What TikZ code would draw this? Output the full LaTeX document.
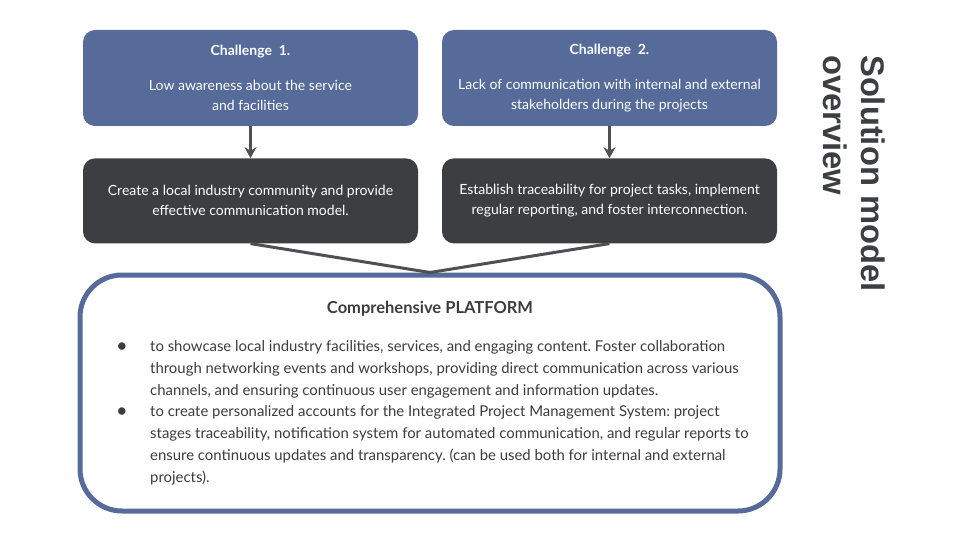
\documentclass[tikz,border=0pt]{standalone}
\usepackage{fontspec}
\setmainfont{Lato}
\newfontfamily\headfont{Liberation Sans}
\usepackage{xcolor}
\usetikzlibrary{arrows.meta,positioning}
\definecolor{chblue}{RGB}{86,107,153}
\definecolor{soldark}{RGB}{60,62,65}
\definecolor{linkgray}{RGB}{80,80,83}
\definecolor{textgray}{RGB}{60,60,62}
\frenchspacing

\begin{document}
\begin{tikzpicture}[x=1pt,y=-1pt,
    chbox/.style={rectangle,rounded corners=12pt,fill=chblue,text=white,
        minimum width=335pt,minimum height=96pt,align=center,
        font=\fontsize{14}{20}\selectfont},
    solbox/.style={chbox,fill=soldark,minimum height=85pt},
    link/.style={linkgray,line width=3pt},
    bulletline/.style={anchor=north west,align=left,text=textgray,inner sep=0pt,
        font=\fontsize{14.9}{22}\selectfont}]
    \useasboundingbox (0,0) rectangle (960,540);

    % challenges
    \node[chbox] (ch1) at (250.5,78) {\textbf{Challenge\ \ 1.}\\[15pt]Low awareness about the service\\and facilities};
    \node[chbox] (ch2) at (609.5,78) {\textbf{Challenge\ \ 2.}\\[15pt]Lack of communication with internal and external\\stakeholders during the projects};

    % solutions
    \node[solbox,below=32pt of ch1] (sol1) {Create a local industry community and provide\\effective communication model.};
    \node[solbox,below=32pt of ch2] (sol2) {Establish traceability for project tasks, implement\\regular reporting, and foster interconnection.};

    % platform
    \node[draw=chblue,line width=5pt,rounded corners=42pt,minimum width=700pt,
        minimum height=236pt] (plat) at (430,393) {};
    \node[text=textgray,font=\fontsize{16.5}{20}\selectfont\bfseries] (plattitle) at (430,309) {Comprehensive PLATFORM};
    \node[text=textgray,font=\fontsize{20}{20}\selectfont] (dot1) at (122,348) {\textbullet};
    \node[text=textgray,font=\fontsize{20}{20}\selectfont] (dot2) at (122,413) {\textbullet};
    \node[bulletline] (item1) at (150,340) {to showcase local industry facilities, services, and engaging content. Foster collaboration\\through networking events and workshops, providing direct communication across various\\channels, and ensuring continuous user engagement and information updates.};
    \node[bulletline] (item2) at (150,405) {to create personalized accounts for the Integrated Project Management System: project\\stages traceability, notification system for automated communication, and regular reports to\\ensure continuous updates and transparency. (can be used both for internal and external\\projects).};

    % connectors
    \draw[link,-{Stealth[length=11pt,width=12pt]}] (ch1) -- (sol1);
    \draw[link,-{Stealth[length=11pt,width=12pt]}] (ch2) -- (sol2);
    \draw[link] (sol1.south) -- (plat.north);
    \draw[link] (sol2.south) -- (plat.north);

    % heading
    \node[rotate=-90,anchor=north west,inner sep=0pt,align=left,text=soldark,
        font=\headfont\bfseries\fontsize{32.7}{38}\selectfont] (heading) at (885,55) {Solution model\\overview};
\end{tikzpicture}
\end{document}
